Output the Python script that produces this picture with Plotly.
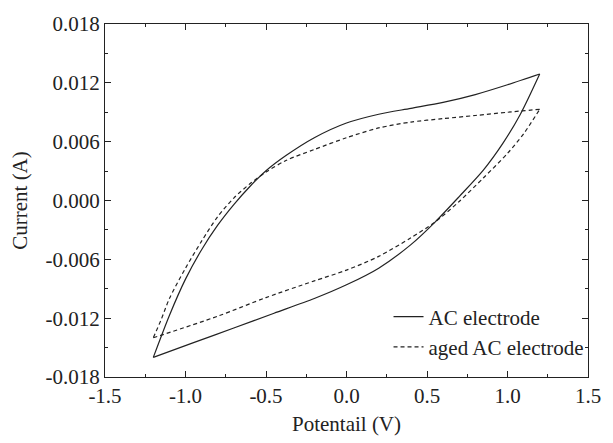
import plotly.graph_objects as go

# AC electrode: forward (lower) branch and reverse (upper) branch
ac_fwd_x = [-1.2, -0.95, -0.7, -0.45, -0.2, 0.0, 0.2, 0.4, 0.55, 0.7, 0.85, 0.97, 1.08, 1.2]
ac_fwd_y = [-0.0160, -0.0145, -0.0130, -0.0115, -0.0100, -0.0086, -0.0069, -0.0045, -0.0022, 0.0004, 0.0031,
            0.0058, 0.0088, 0.0129]
ac_rev_x = [1.2, 1.0, 0.8, 0.6, 0.4, 0.2, 0.0, -0.2, -0.376, -0.5, -0.6, -0.7, -0.8, -0.9, -1.0, -1.1, -1.2]
ac_rev_y = [0.0129, 0.0118, 0.0108, 0.0100, 0.0094, 0.0088, 0.0079, 0.0064, 0.00458, 0.00303, 0.00143, -0.00042,
            -0.00252, -0.00502, -0.00802, -0.01172, -0.0160]

# aged AC electrode
aged_fwd_x = [-1.2, -0.8, -0.5, -0.2, 0.0, 0.2, 0.4, 0.55, 0.7, 0.85, 1.0, 1.1, 1.2]
aged_fwd_y = [-0.0140, -0.0118, -0.0099, -0.0082, -0.0071, -0.0057, -0.0038, -0.0022, -0.0001, 0.0023, 0.0048,
              0.0068, 0.0093]
aged_rev_x = [1.2, 1.0, 0.8, 0.6, 0.4, 0.2, 0.0, -0.2, -0.376, -0.5, -0.6, -0.7, -0.8, -0.9, -1.0, -1.1, -1.15, -1.2]
aged_rev_y = [0.0093, 0.0090, 0.00867, 0.00835, 0.0080, 0.0074, 0.0064, 0.0052, 0.00408, 0.0029, 0.0017, 0.00025,
              -0.00165, -0.00415, -0.0069, -0.0100, -0.0121, -0.0140]

x_ticks = [-1.5, -1.0, -0.5, 0.0, 0.5, 1.0, 1.5]
x_labels = ["-1.5", "-1.0", "-0.5", "0.0", "0.5", "1.0", "1.5"]
y_ticks = [-0.018, -0.012, -0.006, 0.0, 0.006, 0.012, 0.018]
y_labels = ["-0.018", "-0.012", "-0.006", "0.000", "0.006", "0.012", "0.018"]

FONT = "Liberation Serif"
INK = "#222222"
FS = 21

fig = go.Figure()
solid = dict(color=INK, width=1.2, shape="spline", smoothing=0.8)
dashed = dict(color=INK, width=1.2, dash="4px,3px", shape="spline", smoothing=0.8)
fig.add_trace(go.Scatter(x=ac_fwd_x, y=ac_fwd_y, mode="lines", name="AC electrode",
                         legendgroup="ac", line=solid))
fig.add_trace(go.Scatter(x=ac_rev_x, y=ac_rev_y, mode="lines", name="AC electrode",
                         legendgroup="ac", showlegend=False, line=solid))
fig.add_trace(go.Scatter(x=aged_fwd_x, y=aged_fwd_y, mode="lines", name="aged AC electrode",
                         legendgroup="aged", line=dashed))
fig.add_trace(go.Scatter(x=aged_rev_x, y=aged_rev_y, mode="lines", name="aged AC electrode",
                         legendgroup="aged", showlegend=False, line=dashed))

axis_common = dict(
    showline=True, linecolor=INK, linewidth=1.3, mirror="allticks",
    ticks="inside", ticklen=6, tickwidth=1.2, tickcolor=INK,
    showgrid=False, zeroline=False,
    tickfont=dict(family=FONT, size=FS, color=INK),
)

fig.update_xaxes(range=[-1.5, 1.5], tickvals=x_ticks, ticktext=x_labels,
                 minor=dict(ticks="inside", ticklen=3, tickwidth=1, tickcolor=INK, dtick=0.25, tick0=0),
                 title=dict(text="Potentail (V)", font=dict(family=FONT, size=FS, color=INK), standoff=8),
                 **axis_common)
fig.update_yaxes(range=[-0.018, 0.018], tickvals=y_ticks, ticktext=y_labels,
                 minor=dict(ticks="inside", ticklen=3, tickwidth=1, tickcolor=INK, dtick=0.003, tick0=0),
                 title=dict(text="Current (A)", font=dict(family=FONT, size=FS, color=INK), standoff=12),
                 **axis_common)

fig.update_layout(
    width=613, height=443,
    margin=dict(l=105, r=14, t=20, b=56, pad=0),
    paper_bgcolor="white", plot_bgcolor="white",
    font=dict(family=FONT, size=FS, color=INK),
    legend=dict(x=0.587, xanchor="left", y=0.228, yanchor="top",
                bgcolor="rgba(0,0,0,0)", font=dict(family=FONT, size=FS, color=INK),
                tracegroupgap=0),
)

fig.write_html("out.html")
